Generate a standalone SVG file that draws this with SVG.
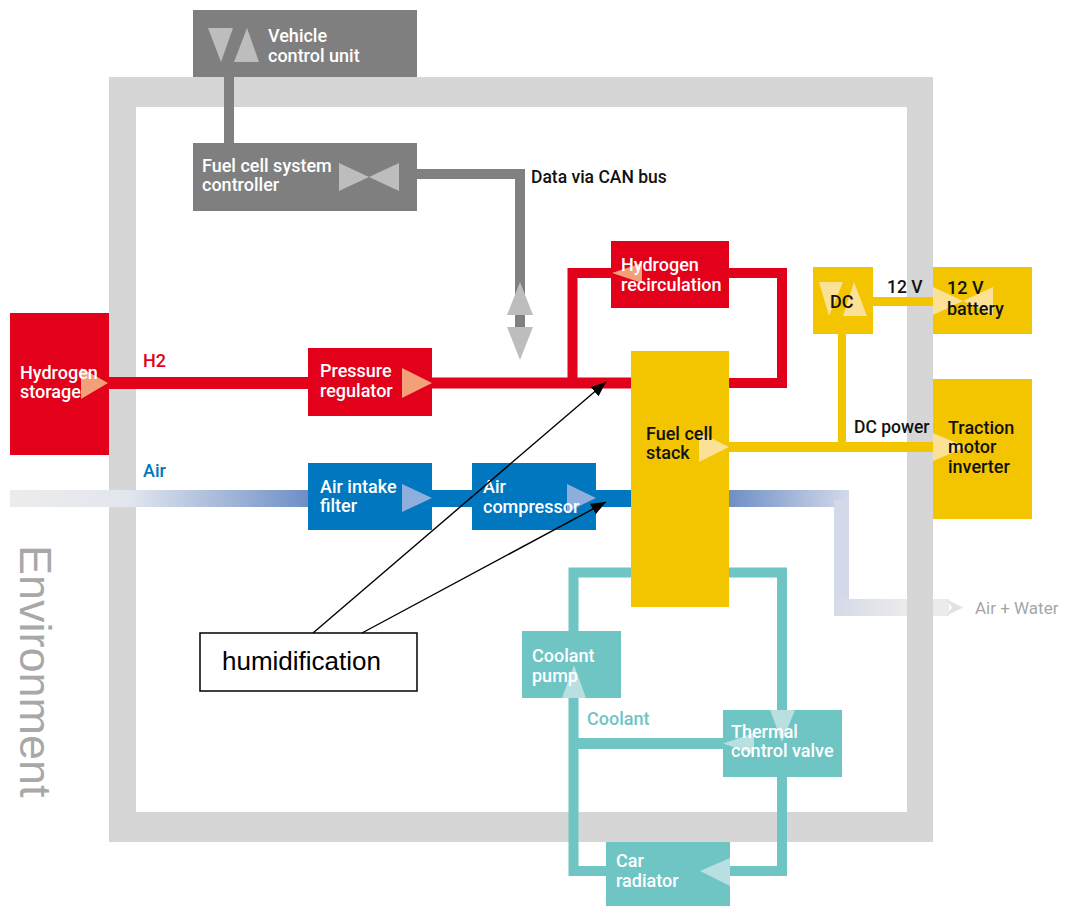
<svg xmlns="http://www.w3.org/2000/svg" width="1069" height="906" viewBox="0 0 1069 906">
<style>
.t{font-family:Roboto,"Liberation Sans",sans-serif;font-weight:500;font-size:18px}
.w{fill:#ffffff}
.k{fill:#111111}
.lbl{font-family:Roboto,"Liberation Sans",sans-serif;font-weight:500;font-size:17.5px;fill:#111111}
.red{fill:#e2001a}
.blue{fill:#0077bf}
.yel{fill:#f2c500}
.teal{fill:#6fc4c4}
.gry{fill:#7f7f7f}
.pr{fill:#f39f7a}
.pb{fill:#8eaedd}
.py{fill:#fbe196}
.pt{fill:#b8e0e0}
.pg{fill:#bdbdbd}
.sred{stroke:#e2001a;fill:none}
.syel{stroke:#f2c500;fill:none}
.steal{stroke:#6fc4c4;fill:none}
.sgry{stroke:#808080;fill:none}
.ann{stroke:#000;stroke-width:1.4;fill:none}
</style>
<defs>
<linearGradient id="gin" gradientUnits="userSpaceOnUse" x1="10" y1="0" x2="308" y2="0">
<stop offset="0" stop-color="#ececec"/>
<stop offset="0.4" stop-color="#e2e6ee"/>
<stop offset="1" stop-color="#6e8fc6"/>
</linearGradient>
<linearGradient id="gout" gradientUnits="userSpaceOnUse" x1="729" y1="0" x2="849" y2="0">
<stop offset="0" stop-color="#6e8fc6"/>
<stop offset="1" stop-color="#d3d9e8"/>
</linearGradient>
<linearGradient id="gout2" gradientUnits="userSpaceOnUse" x1="834" y1="0" x2="907" y2="0">
<stop offset="0" stop-color="#d5dae8"/>
<stop offset="1" stop-color="#ebebeb"/>
</linearGradient>
<marker id="ah" markerUnits="userSpaceOnUse" markerWidth="16" markerHeight="12" refX="15" refY="6" orient="auto">
<path d="M0,0 L15,6 L0,12 Z" fill="#000"/>
</marker>
</defs>

<g id="frame">
<path d="M109,77 H933 V842 H109 Z M136,107 V812 H907 V107 Z" fill="#d6d6d6" fill-rule="evenodd"/>
<text x="0" y="0" transform="translate(20,545) rotate(90)" font-family="'Liberation Sans',Arial,sans-serif" font-size="45" fill="#a8a8a8">Environment</text>
</g>

<g id="connectors">
<path class="sgry" stroke-width="10" d="M229,77 V143"/>
<path class="sgry" stroke-width="10" d="M417,174 H520 V327"/>
<path class="sred" stroke-width="12" d="M109,383 H308"/>
<path class="sred" stroke-width="11" d="M432,383 H631"/>
<path class="sred" stroke-width="10" d="M729,383 H782 V273 H729"/>
<path class="sred" stroke-width="10" d="M611,273 H572.5 V383"/>
<rect x="10" y="490" width="298" height="17" fill="url(#gin)"/>
<rect x="432" y="490" width="40" height="17" fill="#0077bf"/>
<rect x="596" y="490" width="35" height="17" fill="#0077bf"/>
<rect x="729" y="490" width="120" height="17" fill="url(#gout)"/>
<rect x="834" y="500" width="15" height="116" fill="#d3d9e8"/>
<rect x="834" y="599" width="73" height="17" fill="url(#gout2)"/>
<rect x="933" y="599" width="16" height="17" fill="#ebebeb"/>
<path d="M946,599 L963,607.5 L946,616 L952,607.5 Z" fill="#e2e2e2"/>
<path class="syel" stroke-width="10" d="M729,447 H933"/>
<path class="syel" stroke-width="9" d="M873,301.5 H933"/>
<path class="syel" stroke-width="8" d="M842,334 V447"/>
<path class="steal" stroke-width="10" d="M573.5,631 V572.5 H782 V710"/>
<path class="steal" stroke-width="10" d="M573.5,698 V871 H606"/>
<path class="steal" stroke-width="10" d="M782,777 V871 H730"/>
<path class="steal" stroke-width="11" d="M573.5,743.5 H723"/>
</g>

<g id="vehicle-control-unit">
<rect x="193" y="10" width="224" height="67" class="gry"/>
<polygon points="208,28 233,28 221,62" class="pg"/>
<polygon points="234,62 259,62 247,28" class="pg"/>
<text class="t w" x="268" y="42">Vehicle</text>
<text class="t w" x="268" y="62">control unit</text>
</g>

<g id="fuel-cell-system-controller">
<rect x="193" y="143" width="224" height="68" class="gry"/>
<polygon points="339,163 339,191 369,177" class="pg"/>
<polygon points="399,163 399,191 369,177" class="pg"/>
<text class="t w" x="202" y="172">Fuel cell system</text>
<text class="t w" x="202" y="191">controller</text>
</g>

<g id="can-bus">
<polygon points="520,282 533,315 507,315" class="pg"/>
<polygon points="507,327 533,327 520,360" class="pg"/>
<text class="lbl" x="531" y="183">Data via CAN bus</text>
</g>

<g id="hydrogen-storage">
<rect x="10" y="313" width="99" height="142" class="red"/>
<polygon points="81,368 108,383 81,399" class="pr"/>
<text class="t w" x="20" y="379">Hydrogen</text>
<text class="t w" x="20" y="398">storage</text>
</g>
<text class="t red" x="143" y="367">H2</text>
<text class="t blue" x="143" y="477">Air</text>

<g id="pressure-regulator">
<rect x="308" y="348" width="124" height="68" class="red"/>
<polygon points="402,368 432,383 402,398" class="pr"/>
<text class="t w" x="320" y="377">Pressure</text>
<text class="t w" x="320" y="397">regulator</text>
</g>

<g id="hydrogen-recirculation">
<rect x="611" y="241" width="118" height="67" class="red"/>
<polygon points="612,273 642,263 642,283" class="pr"/>
<text class="t w" x="621" y="271">Hydrogen</text>
<text class="t w" x="621" y="291">recirculation</text>
</g>

<g id="air-intake-filter">
<rect x="308" y="463" width="124" height="67" class="blue"/>
<polygon points="402,484 432,498 402,512" class="pb"/>
<text class="t w" x="320" y="493">Air intake</text>
<text class="t w" x="320" y="512">filter</text>
</g>

<g id="air-compressor">
<rect x="472" y="463" width="124" height="67" class="blue"/>
<polygon points="567,484 596,498 567,512" class="pb"/>
<text class="t w" x="483" y="493">Air</text>
<text class="t w" x="483" y="513">compressor</text>
</g>

<g id="fuel-cell-stack">
<rect x="631" y="351" width="98" height="256" class="yel"/>
<polygon points="699,432 729,447 699,462" class="py"/>
<text class="t k" x="646" y="440">Fuel cell</text>
<text class="t k" x="646" y="459">stack</text>
</g>

<g id="dc-converter">
<rect x="813" y="267" width="60" height="67" class="yel"/>
<polygon points="819,282 843,282 829,316" class="py"/>
<polygon points="843,316 867,316 854,282" class="py"/>
<text class="t k" x="830" y="308">DC</text>
</g>
<text class="lbl" x="887" y="293">12 V</text>

<g id="battery-12v">
<rect x="933" y="267" width="99" height="67" class="yel"/>
<polygon points="933,287 963,301 933,315" class="py"/>
<polygon points="993,287 963,301 993,315" class="py"/>
<text class="t k" x="947" y="294">12 V</text>
<text class="t k" x="947" y="315">battery</text>
</g>

<text class="lbl" x="854" y="433">DC power</text>

<g id="traction-motor-inverter">
<rect x="933" y="379" width="99" height="140" class="yel"/>
<polygon points="933,433 966,447 933,461" class="py"/>
<text class="t k" x="948" y="434">Traction</text>
<text class="t k" x="948" y="453">motor</text>
<text class="t k" x="948" y="473">inverter</text>
</g>

<text x="975" y="614" font-family="Roboto,'Liberation Sans',sans-serif" font-size="17" fill="#a6a6a6">Air + Water</text>

<g id="coolant-pump">
<rect x="522" y="631" width="99" height="67" class="teal"/>
<polygon points="574,665 586,698 562,698" class="pt"/>
<text class="t w" x="532" y="662">Coolant</text>
<text class="t w" x="532" y="682">pump</text>
</g>
<text class="t teal" x="587" y="725">Coolant</text>

<g id="thermal-control-valve">
<rect x="723" y="710" width="119" height="67" class="teal"/>
<polygon points="770,710 795,710 782,742" class="pt"/>
<polygon points="723,743.5 754,733 754,754" class="pt"/>
<text class="t w" x="731" y="738">Thermal</text>
<text class="t w" x="731" y="757">control valve</text>
</g>

<g id="car-radiator">
<rect x="606" y="842" width="124" height="64" class="teal"/>
<polygon points="700,871 730,858 730,886" class="pt"/>
<text class="t w" x="616" y="867">Car</text>
<text class="t w" x="616" y="887">radiator</text>
</g>

<g id="humidification">
<rect x="200" y="633" width="217" height="58" fill="#ffffff" stroke="#000" stroke-width="1.5"/>
<text x="222" y="670" font-family="'Liberation Sans',Arial,sans-serif" font-size="26" fill="#000">humidification</text>
</g>
<g id="annotation-arrows">
<line class="ann" x1="313" y1="633" x2="606" y2="382" marker-end="url(#ah)"/>
<line class="ann" x1="362" y1="633" x2="606" y2="502" marker-end="url(#ah)"/>
</g>
</svg>
